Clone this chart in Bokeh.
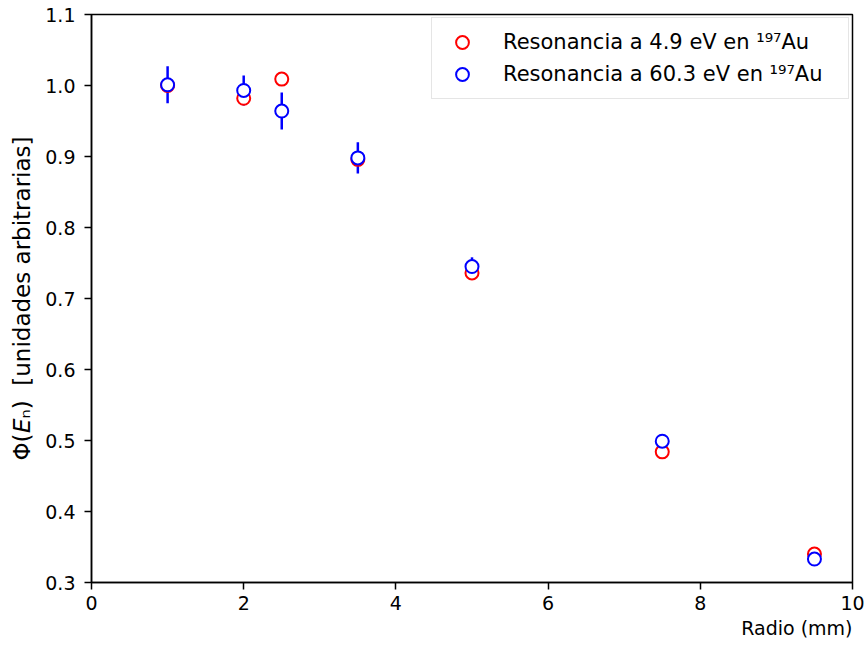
from bokeh.plotting import figure
from bokeh.models import FixedTicker, PrintfTickFormatter, Legend, LegendItem, Title, ColumnDataSource
from bokeh.embed import file_html
from bokeh.resources import INLINE

# Radial position of each measurement (mm)
radio = [1.0, 2.0, 2.5, 3.5, 5.0, 7.5, 9.5]
# Normalised flux from the 4.9 eV resonance of Au-197
flujo_4_9 = [1.000, 0.982, 1.009, 0.896, 0.736, 0.484, 0.340]
# Normalised flux from the 60.3 eV resonance of Au-197, with its uncertainty
flujo_60_3 = [1.001, 0.993, 0.964, 0.898, 0.745, 0.499, 0.333]
error_60_3 = [0.026, 0.021, 0.026, 0.022, 0.013, 0.006, 0.005]

x_ticks = [0, 2, 4, 6, 8, 10]
y_ticks = [0.3, 0.4, 0.5, 0.6, 0.7, 0.8, 0.9, 1.0, 1.1]

FONT = "DejaVu Sans"
FS = "19px"

src_r = ColumnDataSource(dict(x=radio, y=flujo_4_9))
src_b = ColumnDataSource(dict(
    x=radio, y=flujo_60_3,
    lo=[v - e for v, e in zip(flujo_60_3, error_60_3)],
    hi=[v + e for v, e in zip(flujo_60_3, error_60_3)],
))

p = figure(width=866, height=650, x_range=(0, 10), y_range=(0.3, 1.1),
           output_backend="svg", toolbar_location=None,
           min_border_left=91, min_border_right=14, min_border_top=14, min_border_bottom=68)

p.background_fill_color = "white"
p.border_fill_color = "white"
p.xgrid.visible = False
p.ygrid.visible = False
p.outline_line_color = "black"
p.outline_line_width = 1.5

for ax in (p.xaxis[0], p.yaxis[0]):
    ax.axis_line_width = 1.5
    ax.major_tick_line_width = 1.5
    ax.major_tick_out = 7
    ax.major_tick_in = 0
    ax.minor_tick_line_color = None
    ax.major_label_text_font = FONT
    ax.major_label_text_font_size = FS
    ax.major_label_text_color = "black"

p.xaxis.ticker = FixedTicker(ticks=x_ticks)
p.xaxis.formatter = PrintfTickFormatter(format="%d")
p.xaxis.major_label_standoff = 6

p.yaxis.ticker = FixedTicker(ticks=y_ticks)
p.yaxis.formatter = PrintfTickFormatter(format="%.1f")
p.yaxis.major_label_standoff = 9
p.yaxis.axis_label = "Φ(𝘌ₙ)\u00a0\u00a0[unidades arbitrarias]"
p.yaxis.axis_label_text_font = FONT
p.yaxis.axis_label_text_font_size = "23px"
p.yaxis.axis_label_text_font_style = "normal"
p.yaxis.axis_label_text_color = "black"
p.yaxis.axis_label_standoff = 7

xlabel = Title(text="Radio (mm)", align="right", text_font=FONT, text_color="black",
               text_font_size=FS, text_font_style="normal", standoff=4, offset=0)
p.add_layout(xlabel, "below")

# error bars for the 60.3 eV series
p.segment(x0="x", y0="lo", x1="x", y1="hi", source=src_b, line_color="blue", line_width=2.5)

r_red = p.scatter("x", "y", source=src_r, marker="circle", size=13,
                  line_color="red", line_width=2, fill_color="white")
r_blue = p.scatter("x", "y", source=src_b, marker="circle", size=13,
                   line_color="blue", line_width=2, fill_color="white")

legend = Legend(items=[
    LegendItem(label="Resonancia a 4.9 eV en ¹⁹⁷Au", renderers=[r_red]),
    LegendItem(label="Resonancia a 60.3 eV en ¹⁹⁷Au", renderers=[r_blue]),
], location="top_right")
legend.label_text_font = FONT
legend.label_text_font_size = "21px"
legend.label_text_color = "black"
legend.border_line_color = "#cccccc"
legend.border_line_width = 1.5
legend.background_fill_alpha = 0.8
legend.margin = 3
legend.padding = 8
legend.glyph_width = 44
legend.glyph_height = 32
legend.label_height = 32
legend.label_width = 337
legend.label_standoff = 19
legend.spacing = 0
p.add_layout(legend)

open("out.html", "w").write(file_html(p, INLINE))
